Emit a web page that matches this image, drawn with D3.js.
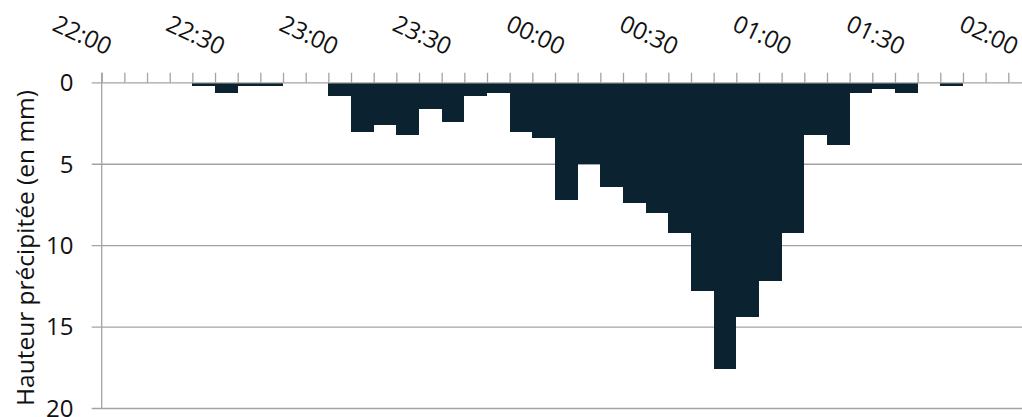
<!DOCTYPE html>
<html>
<head>
<meta charset="utf-8">
<script src="https://cdn.jsdelivr.net/npm/d3@7/dist/d3.min.js"></script>
<style>
  html, body { margin: 0; padding: 0; background: #fff; }
  svg { display: block; font-family: "Open Sans", "Noto Sans", sans-serif; }
</style>
</head>
<body>
<svg id="chart" width="1022" height="417"></svg>
<script>
// Rainfall per 6-minute interval (start time of each interval)
const intervalStarts = [
  "22:00","22:06","22:12","22:18","22:24","22:30","22:36","22:42","22:48","22:54",
  "23:00","23:06","23:12","23:18","23:24","23:30","23:36","23:42","23:48","23:54",
  "00:00","00:06","00:12","00:18","00:24","00:30","00:36","00:42","00:48","00:54",
  "01:00","01:06","01:12","01:18","01:24","01:30","01:36","01:42","01:48","01:54"
];
const rainfall = [
  0, 0, 0, 0, 0.2, 0.6, 0.2, 0.2, 0, 0,
  0.8, 3.0, 2.6, 3.2, 1.6, 2.4, 0.8, 0.6, 3.0, 3.4,
  7.2, 5.0, 6.4, 7.4, 8.0, 9.2, 12.8, 17.6, 14.4, 12.2,
  9.2, 3.2, 3.8, 0.6, 0.4, 0.6, 0, 0.2, 0, 0
];
const timeLabels = ["22:00","22:30","23:00","23:30","00:00","00:30","01:00","01:30","02:00"];
const yTicks = [0, 5, 10, 15, 20];
const yTitle = "Hauteur précipitée (en mm)";

// Clock strings to dates; times before noon fall on the following day
const toDate = s => {
  const [h, m] = s.split(":").map(Number);
  return new Date(2000, 0, h < 12 ? 2 : 1, h, m);
};

const W = 1022, H = 417;
const plotLeft = 101.7, plotTop = 82.8;
const svg = d3.select("#chart");

const x = d3.scaleTime()
  .domain([toDate("22:00"), toDate("02:00")])
  .range([plotLeft, 1008.3]);
const y = d3.scaleLinear().domain([0, 20]).range([plotTop, 408.5]);

const gridColor = "#a3a3a3";

// Horizontal gridlines with outer ticks
svg.append("g")
  .selectAll("line")
  .data(yTicks.filter(d => d !== 0))
  .join("line")
  .attr("x1", plotLeft - 10).attr("x2", W)
  .attr("y1", d => y(d)).attr("y2", d => y(d))
  .attr("stroke", gridColor).attr("stroke-width", 1.3);

// Bars
const data = intervalStarts.map((t, i) => ({ t: toDate(t), v: rainfall[i] }));
svg.append("g")
  .selectAll("rect")
  .data(data.filter(d => d.v > 0))
  .join("rect")
  .attr("x", d => x(d.t))
  .attr("width", d => x(d3.timeMinute.offset(d.t, 6)) - x(d.t))
  .attr("y", y(0))
  .attr("height", d => y(d.v) - y(0))
  .attr("fill", "#0b2230")
  .attr("shape-rendering", "crispEdges");

// Vertical axis line
svg.append("line")
  .attr("x1", plotLeft).attr("x2", plotLeft)
  .attr("y1", plotTop - 10).attr("y2", y(20))
  .attr("stroke", gridColor).attr("stroke-width", 1.3);

// Time axis on top with a tick every 6 minutes
const xAxis = d3.axisTop(x)
  .ticks(d3.timeMinute.every(6))
  .tickSize(10)
  .tickFormat("");
const gx = svg.append("g")
  .attr("transform", `translate(0,${plotTop})`)
  .call(xAxis);
gx.select(".domain").remove();
gx.selectAll(".tick line").attr("stroke", gridColor).attr("stroke-width", 1.3);
svg.append("line")
  .attr("x1", plotLeft - 10).attr("x2", W)
  .attr("y1", plotTop).attr("y2", plotTop)
  .attr("stroke", gridColor).attr("stroke-width", 1.3);

// Rotated time labels
svg.append("g")
  .selectAll("text")
  .data(timeLabels)
  .join("text")
  .attr("transform", d => `translate(${x(toDate(d)) - 19.3},35) rotate(25)`)
  .attr("text-anchor", "middle")
  .attr("dy", "0.35em")
  .attr("font-size", 24)
  .attr("fill", "#111")
  .text(d => d);

// Value labels
svg.append("g")
  .selectAll("text")
  .data(yTicks)
  .join("text")
  .attr("x", 73.5)
  .attr("y", d => y(d))
  .attr("dy", "0.35em")
  .attr("text-anchor", "end")
  .attr("font-size", 24)
  .attr("fill", "#111")
  .text(d => d);

// Vertical axis title
svg.append("text")
  .attr("transform", "translate(25,248) rotate(-90)")
  .attr("text-anchor", "middle")
  .attr("dy", "0.35em")
  .attr("font-size", 24.5)
  .attr("fill", "#111")
  .text(yTitle);
</script>
</body>
</html>
